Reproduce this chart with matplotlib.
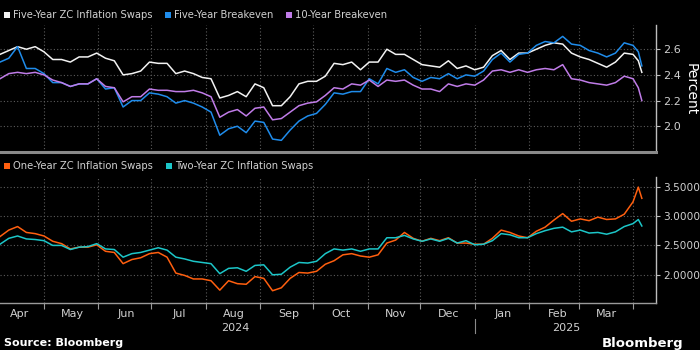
import matplotlib
matplotlib.use("Agg")
import matplotlib.pyplot as plt
import matplotlib.dates as mdates
import matplotlib.transforms as mtransforms
from matplotlib.patches import Rectangle
import pandas as pd

# --- Data (roughly every 5 days) ---
dates = list(pd.date_range("2024-04-06", periods=73, freq="5D")) + \
    [pd.Timestamp("2025-04-04"), pd.Timestamp("2025-04-06")]

five_yr_zc = [2.56, 2.59, 2.62, 2.60, 2.62, 2.58, 2.52, 2.52, 2.50, 2.54,
              2.54, 2.57, 2.53, 2.51, 2.40, 2.41, 2.43, 2.50, 2.49, 2.49,
              2.41, 2.43, 2.41, 2.38, 2.37, 2.22, 2.24, 2.27, 2.23, 2.33,
              2.30, 2.16, 2.16, 2.23, 2.33, 2.35, 2.35, 2.39, 2.49, 2.48,
              2.50, 2.44, 2.50, 2.50, 2.60, 2.56, 2.56, 2.52, 2.48, 2.47,
              2.46, 2.51, 2.45, 2.47, 2.44, 2.46, 2.55, 2.59, 2.52, 2.57,
              2.57, 2.60, 2.63, 2.65, 2.64, 2.57, 2.54, 2.52, 2.49, 2.46,
              2.50, 2.57, 2.56, 2.51, 2.42]
five_yr_be = [2.50, 2.53, 2.62, 2.45, 2.45, 2.41, 2.34, 2.34, 2.31, 2.33,
              2.33, 2.37, 2.29, 2.30, 2.15, 2.20, 2.20, 2.26, 2.25, 2.23,
              2.18, 2.20, 2.18, 2.15, 2.11, 1.93, 1.98, 2.00, 1.95, 2.04,
              2.03, 1.90, 1.89, 1.97, 2.04, 2.08, 2.10, 2.17, 2.26, 2.25,
              2.27, 2.27, 2.37, 2.33, 2.45, 2.42, 2.44, 2.38, 2.35, 2.38,
              2.37, 2.41, 2.37, 2.40, 2.39, 2.43, 2.52, 2.57, 2.50, 2.56,
              2.57, 2.63, 2.66, 2.65, 2.70, 2.64, 2.63, 2.59, 2.57, 2.54,
              2.57, 2.65, 2.63, 2.58, 2.47]
ten_yr_be = [2.37, 2.41, 2.42, 2.41, 2.42, 2.40, 2.36, 2.34, 2.31, 2.33,
             2.33, 2.37, 2.31, 2.30, 2.19, 2.23, 2.23, 2.29, 2.28, 2.28,
             2.27, 2.27, 2.28, 2.26, 2.23, 2.07, 2.11, 2.13, 2.08, 2.14,
             2.15, 2.05, 2.06, 2.11, 2.16, 2.18, 2.19, 2.24, 2.30, 2.29,
             2.33, 2.32, 2.36, 2.31, 2.36, 2.35, 2.36, 2.32, 2.29, 2.29,
             2.27, 2.33, 2.31, 2.33, 2.32, 2.36, 2.43, 2.44, 2.42, 2.44,
             2.42, 2.44, 2.45, 2.44, 2.48, 2.37, 2.36, 2.34, 2.33, 2.32,
             2.34, 2.39, 2.37, 2.30, 2.20]
one_yr_zc = [2.65, 2.76, 2.82, 2.72, 2.70, 2.66, 2.57, 2.53, 2.44, 2.47,
             2.47, 2.51, 2.40, 2.38, 2.19, 2.26, 2.29, 2.36, 2.38, 2.30,
             2.03, 1.99, 1.93, 1.93, 1.90, 1.74, 1.90, 1.85, 1.84, 1.97,
             1.94, 1.73, 1.78, 1.94, 2.04, 2.03, 2.06, 2.18, 2.24, 2.34,
             2.36, 2.32, 2.30, 2.34, 2.54, 2.59, 2.72, 2.62, 2.57, 2.62,
             2.58, 2.63, 2.54, 2.54, 2.52, 2.52, 2.62, 2.76, 2.72, 2.66,
             2.63, 2.74, 2.81, 2.93, 3.04, 2.91, 2.95, 2.92, 2.98, 2.94,
             2.95, 3.03, 3.24, 3.49, 3.30]
two_yr_zc = [2.52, 2.62, 2.66, 2.61, 2.60, 2.58, 2.50, 2.50, 2.43, 2.47,
             2.48, 2.53, 2.44, 2.43, 2.30, 2.36, 2.38, 2.42, 2.46, 2.42,
             2.30, 2.27, 2.23, 2.21, 2.19, 2.02, 2.11, 2.12, 2.06, 2.16,
             2.17, 2.00, 2.01, 2.13, 2.21, 2.20, 2.23, 2.36, 2.44, 2.42,
             2.44, 2.40, 2.44, 2.44, 2.63, 2.63, 2.67, 2.61, 2.57, 2.61,
             2.57, 2.62, 2.54, 2.58, 2.51, 2.52, 2.58, 2.70, 2.68, 2.63,
             2.63, 2.70, 2.75, 2.79, 2.81, 2.73, 2.76, 2.71, 2.72, 2.69,
             2.73, 2.82, 2.87, 2.94, 2.83]

top_ticks = [2.0, 2.2, 2.4, 2.6]
bottom_ticks = [2.0, 2.5, 3.0, 3.5]

# --- Colours ---
BG = "black"
TXT = "#d0d0d0"
GRID = "#5c5c5c"
c_white, c_blue, c_purple = "#f2f2f2", "#1f8ceb", "#c07ce8"
c_orange, c_cyan = "#ff5f0f", "#1cc6c8"

fig = plt.figure(figsize=(7, 3.5), dpi=100, facecolor=BG)
ax1 = fig.add_axes([0, 0.566, 0.937, 0.363])
ax2 = fig.add_axes([0, 0.134, 0.937, 0.36])

xmin, xmax = pd.Timestamp("2024-04-06"), pd.Timestamp("2025-04-14")

for ax in (ax1, ax2):
    ax.set_facecolor(BG)
    ax.set_xlim(xmin, xmax)
    ax.yaxis.tick_right()
    for s in ("left", "top"):
        ax.spines[s].set_visible(False)
    ax.spines["right"].set_color("#bdbdbd")
    ax.spines["right"].set_linewidth(1.0)
    ax.tick_params(axis="y", colors="#bdbdbd", labelcolor=TXT, labelsize=8,
                   length=3, pad=2)
    ax.xaxis.set_major_locator(mdates.MonthLocator())
    ax.grid(True, color=GRID, linestyle=(0, (1, 2)), linewidth=0.8)

# top panel
ax1.plot(dates, five_yr_zc, color=c_white, lw=1.1)
ax1.plot(dates, five_yr_be, color=c_blue, lw=1.1)
ax1.plot(dates, ten_yr_be, color=c_purple, lw=1.1)
ax1.set_ylim(1.80, 2.79)
ax1.set_yticks(top_ticks)
ax1.set_yticklabels([f"{t:.1f}" for t in top_ticks])
ax1.tick_params(axis="x", length=0, labelbottom=False)
ax1.spines["bottom"].set_color("#8a8a8a")
ax1.spines["bottom"].set_linewidth(2.2)

# bottom panel
ax2.plot(dates, one_yr_zc, color=c_orange, lw=1.1)
ax2.plot(dates, two_yr_zc, color=c_cyan, lw=1.1)
ax2.set_ylim(1.52, 3.66)
ax2.set_yticks(bottom_ticks)
ax2.set_yticklabels([f"{t:.4f}" for t in bottom_ticks])
ax2.tick_params(axis="y", labelsize=7.6)
ax2.spines["bottom"].set_color("#9a9a9a")
ax2.spines["bottom"].set_linewidth(1.0)
ax2.xaxis.set_major_formatter(plt.NullFormatter())
ax2.xaxis.set_minor_locator(mdates.MonthLocator(bymonthday=17))
ax2.xaxis.set_minor_formatter(mdates.DateFormatter("%b"))
ax2.tick_params(axis="x", which="major", colors="#9a9a9a", length=4, width=0.8)
ax2.tick_params(axis="x", which="minor", length=0, labelsize=8,
                labelcolor=TXT, pad=4)

# year labels and separator
trans = mtransforms.blended_transform_factory(ax2.transData, ax2.transAxes)
ax2.text(pd.Timestamp("2024-08-18"), -0.195, "2024", transform=trans,
         ha="center", va="center", color=TXT, fontsize=8)
ax2.text(pd.Timestamp("2025-02-22"), -0.195, "2025", transform=trans,
         ha="center", va="center", color=TXT, fontsize=8)
ax2.plot([pd.Timestamp("2025-01-01")] * 2, [-0.13, -0.24], transform=trans,
         color="#8a8a8a", lw=0.8, clip_on=False)

# y label
fig.text(0.986, 0.746, "Percent", rotation=270, ha="center", va="center",
         color="white", fontsize=10)


# --- legends (manual, Bloomberg style) ---
def legend_item(x_px, y_px, color, label):
    fig.add_artist(Rectangle((x_px / 700, (350 - y_px - 3) / 350), 6 / 700,
                             6 / 350, transform=fig.transFigure,
                             facecolor=color, edgecolor="none"))
    fig.text((x_px + 9) / 700, (350 - y_px) / 350, label, color=TXT,
             fontsize=7.2, va="center", ha="left")


legend_item(4, 15, c_white, "Five-Year ZC Inflation Swaps")
legend_item(165, 15, c_blue, "Five-Year Breakeven")
legend_item(286, 15, c_purple, "10-Year Breakeven")
legend_item(4, 166, c_orange, "One-Year ZC Inflation Swaps")
legend_item(166, 166, c_cyan, "Two-Year ZC Inflation Swaps")

# footer
fig.text(0.005, 0.02, "Source: Bloomberg", color="white", fontsize=8,
         fontweight="bold", va="center", ha="left")
fig.text(0.976, 0.02, "Bloomberg", color="white", fontsize=9.5,
         fontweight="bold", va="center", ha="right")

fig.savefig("out.png", dpi=100, facecolor=BG)
